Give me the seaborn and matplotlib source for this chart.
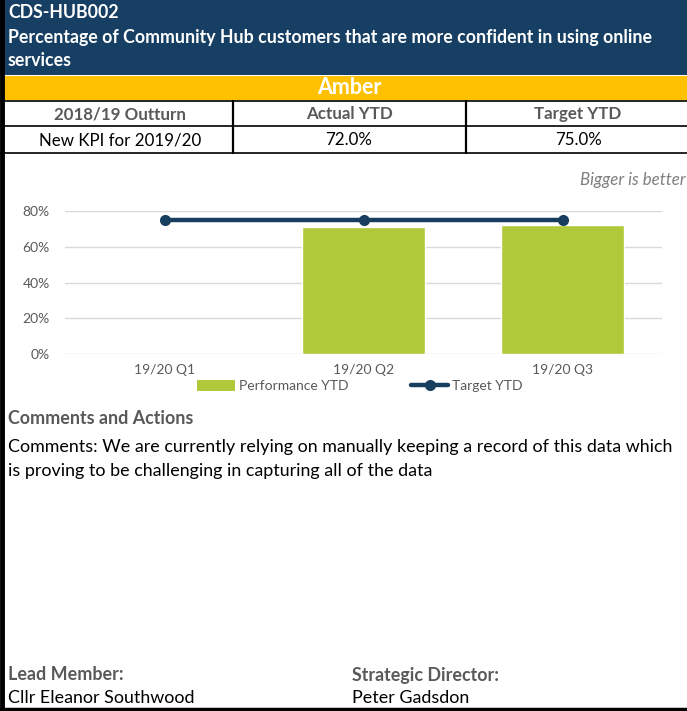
import numpy as np
import pandas as pd
import matplotlib
matplotlib.use("Agg")
import matplotlib.pyplot as plt
from matplotlib.patches import Rectangle
from matplotlib.lines import Line2D
from matplotlib.patches import Patch
import seaborn as sns

# ---- data ----
quarters = ["19/20 Q1", "19/20 Q2", "19/20 Q3"]
performance_ytd = [np.nan, 71.0, 72.0]
target_ytd = [75.0, 75.0, 75.0]
y_ticks = [0, 20, 40, 60, 80]

kpi_code = "CDS-HUB002"
kpi_title = ["Percentage of Community Hub customers that are more confident in using online", "services"]
status = "Amber"
table_headers = ["2018/19 Outturn", "Actual YTD", "Target YTD"]
table_values = ["New KPI for 2019/20", "72.0%", "75.0%"]
comment_lines = ["Comments: We are currently relying on manually keeping a record of this data which",
                 "is proving to be challenging in capturing all of the data"]

sns.set_theme(style="white")
plt.rcParams['font.family'] = ['Lato', 'DejaVu Sans']

NAVY = "#173F63"
LINE_NAVY = "#173D5F"
AMBER = "#FFC000"
GREEN = "#B0C93A"
GREY = "#595959"

W, H = 687, 711
fig = plt.figure(figsize=(W / 100, H / 100), dpi=100)

bg = fig.add_axes([0, 0, 1, 1])
bg.set_xlim(0, W)
bg.set_ylim(H, 0)
bg.axis("off")

fs_head = 12.8
fs_tab = 12.2
fs_body = 12.9
# header
bg.add_patch(Rectangle((0, 0), W, 75, color=NAVY, lw=0))
bg.text(8, 13, kpi_code, color="white", fontsize=fs_head, fontweight="bold", va="center")
bg.text(8, 37, kpi_title[0], color="white", fontsize=fs_head, fontweight="bold", va="center")
bg.text(8, 61, kpi_title[1], color="white", fontsize=fs_head, fontweight="bold", va="center")
# amber band
bg.add_patch(Rectangle((0, 76), W, 24, color=AMBER, lw=0))
bg.text(349, 88, status, color="white", fontsize=15.5, fontweight="bold", va="center", ha="center")
# table
for y in [101, 126, 153]:
    bg.plot([0, W], [y, y], color="black", lw=1.2)
for x in [233, 466]:
    bg.plot([x, x], [101, 153], color="black", lw=1.6)
for cx, h, v in zip([120, 349, 578], table_headers, table_values):
    bg.text(cx, 114, h, color=GREY, fontsize=fs_tab, fontweight="bold", ha="center", va="center")
    bg.text(cx, 140, v, color="black", fontsize=fs_tab, ha="center", va="center")

bg.text(686, 180, "Bigger is better", color="#7F7F7F", fontsize=12.2, style="italic",
        ha="right", va="center")

# comments
bg.text(8, 419, "Comments and Actions", color=GREY, fontsize=fs_body, fontweight="bold", va="center")
bg.text(8, 447, comment_lines[0], color="black", fontsize=fs_body, va="center")
bg.text(8, 471, comment_lines[1], color="black", fontsize=fs_body, va="center")

# footer
bg.text(8, 675, "Lead Member:", color=GREY, fontsize=fs_body, fontweight="bold", va="center")
bg.text(8, 698, "Cllr Eleanor Southwood", color="black", fontsize=fs_body, va="center")
bg.text(352, 675, "Strategic Director:", color=GREY, fontsize=fs_body, fontweight="bold", va="center")
bg.text(352, 698, "Peter Gadsdon", color="black", fontsize=fs_body, va="center")

# borders
bg.plot([2, 2], [0, H], color="black", lw=3.5)
bg.plot([0, W], [709, 709], color="black", lw=2.5)

# ---- chart ----
ax_left, ax_right = 65, 662
y0, y80 = 354, 211
ax = fig.add_axes([ax_left / W, 1 - y0 / H, (ax_right - ax_left) / W, (y0 - y80) / H])
ax.patch.set_alpha(0)

df = pd.DataFrame({"Quarter": quarters, "Performance YTD": performance_ytd})
sns.barplot(data=df, x="Quarter", y="Performance YTD", order=quarters, color=GREEN,
            width=0.62, errorbar=None, ax=ax, saturation=1, zorder=2)
xpos = np.arange(len(quarters))
sns.lineplot(x=xpos, y=target_ytd, ax=ax, color=LINE_NAVY, lw=3.2, marker="o",
             markersize=8, markeredgewidth=0, zorder=3)
for ln in ax.lines:
    ln.set_clip_on(False)

ax.set_xlim(-0.5, len(quarters) - 0.5)
ax.set_ylim(0, 80)
ax.set_yticks(y_ticks)
ax.set_yticklabels([f"{t}%" for t in y_ticks])
ax.set_xlabel("")
ax.set_ylabel("")
ax.grid(axis="y", color="#D9D9D9", lw=1)
ax.set_axisbelow(True)
for s in ax.spines.values():
    s.set_visible(False)
ax.tick_params(axis="both", length=0, labelsize=10, labelcolor=GREY)
ax.tick_params(axis="y", pad=11)
ax.tick_params(axis="x", pad=7)

handles = [Patch(facecolor=GREEN, edgecolor="none"),
           Line2D([0], [0], color=LINE_NAVY, lw=3.2, marker="o", markersize=8, markeredgewidth=0)]
fig.legend(handles, ["Performance YTD", "Target YTD"], loc="center",
           bbox_to_anchor=(360 / W, 1 - 386 / H), ncol=2, frameon=False,
           fontsize=10, labelcolor=GREY, handlelength=2.7, handleheight=0.8,
           handletextpad=0.3, columnspacing=4.5)

fig.savefig("out.png", dpi=100)
